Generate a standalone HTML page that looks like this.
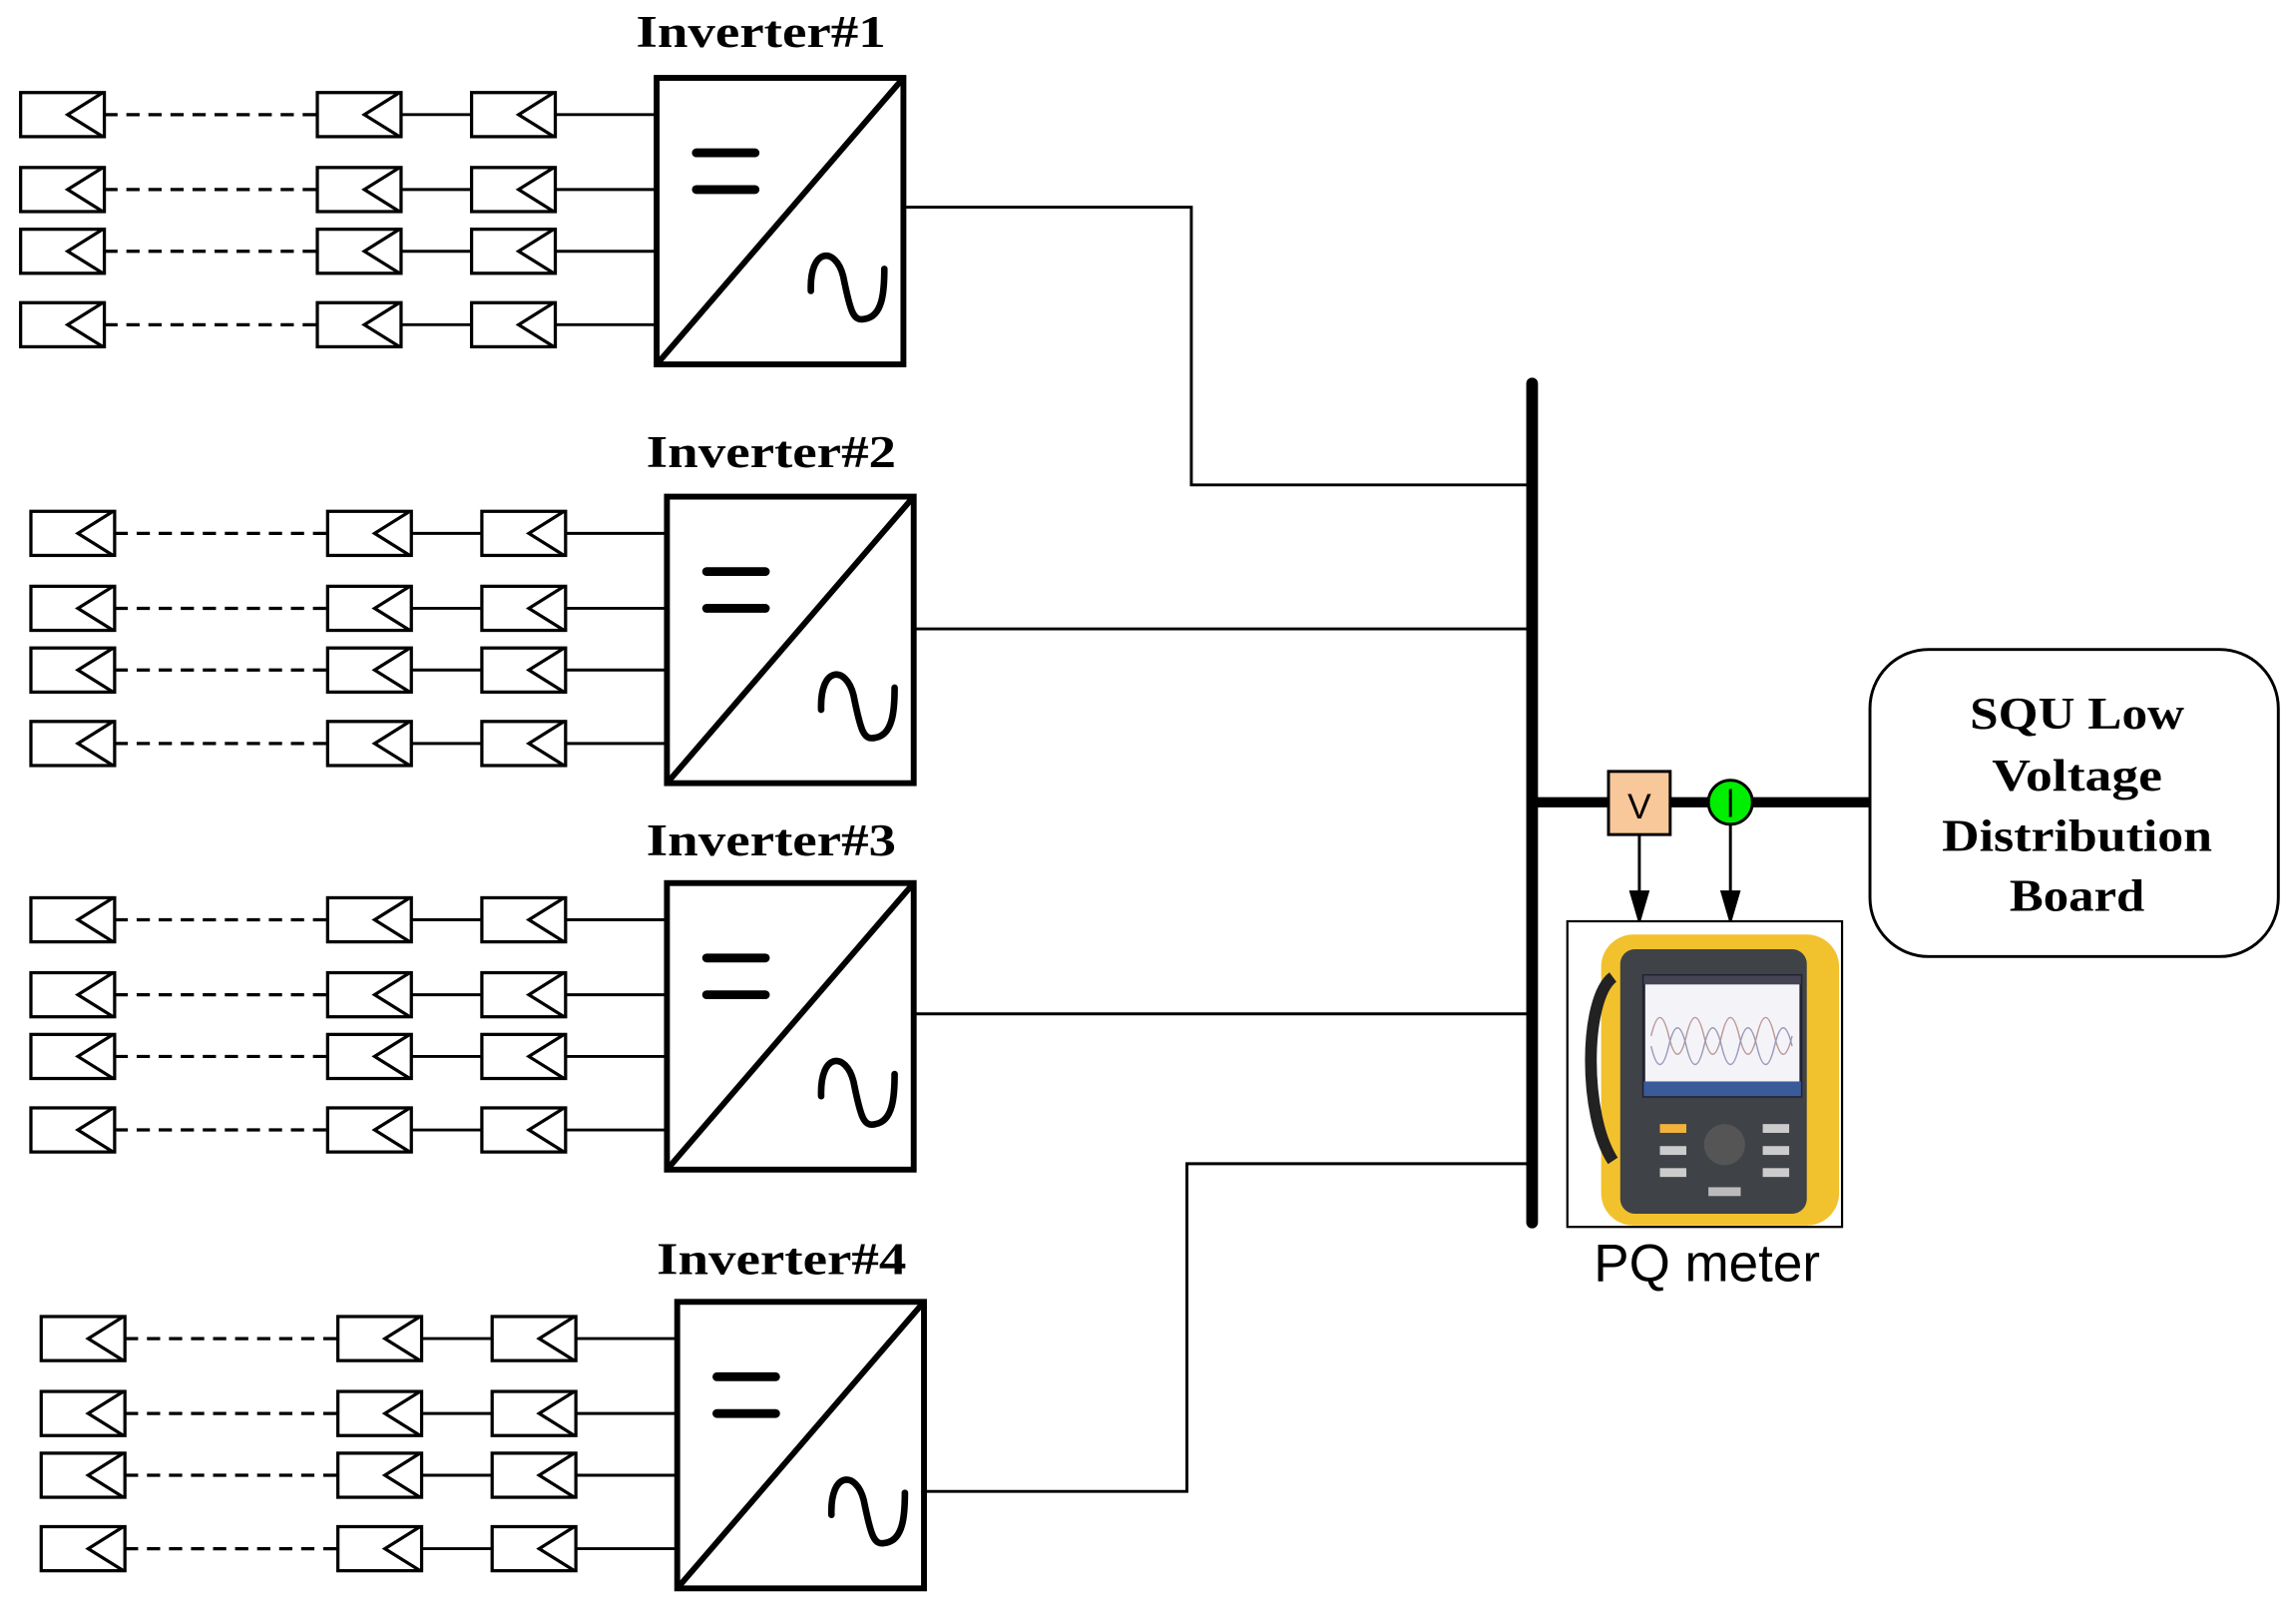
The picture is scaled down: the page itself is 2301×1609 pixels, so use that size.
<!DOCTYPE html>
<html><head><meta charset="utf-8"><style>
html,body{margin:0;padding:0;background:#fff;}
svg{display:block;}
.lbl{font-family:"Liberation Serif",serif;font-weight:bold;font-size:31px;}
.sq{font-family:"Liberation Serif",serif;font-weight:bold;font-size:31px;}
</style></head><body>
<svg width="2301" height="1609" viewBox="0 0 1563 1093" xmlns="http://www.w3.org/2000/svg">
<defs>
<g id="mod">
<rect x="0" y="-15" width="57" height="30" fill="#fff" stroke="#000" stroke-width="2.2"/>
<polyline points="56,-15 32,0 56,15" fill="none" stroke="#000" stroke-width="2.2"/>
</g>
<g id="row">
<line x1="-376" y1="0" x2="-231" y2="0" stroke="#000" stroke-width="2.2" stroke-dasharray="9,6"/>
<line x1="-174" y1="0" x2="-126" y2="0" stroke="#000" stroke-width="2"/>
<line x1="-69" y1="0" x2="0" y2="0" stroke="#000" stroke-width="2"/>
<use href="#mod" x="-433" y="0"/>
<use href="#mod" x="-231" y="0"/>
<use href="#mod" x="-126" y="0"/>
</g>
<g id="inv">
<use href="#row" y="25"/>
<use href="#row" y="76"/>
<use href="#row" y="118"/>
<use href="#row" y="168"/>
<rect x="0" y="0" width="168" height="195" fill="none" stroke="#000" stroke-width="4"/>
<line x1="0" y1="195" x2="168" y2="0" stroke="#000" stroke-width="4"/>
<line x1="27" y1="51" x2="67" y2="51" stroke="#000" stroke-width="6" stroke-linecap="round"/>
<line x1="27" y1="76" x2="67" y2="76" stroke="#000" stroke-width="6" stroke-linecap="round"/>
<path d="M105,145 C104,115 122,115 127,135 C132,160 134,166 142,164 C154,162 155,145 155,130" fill="none" stroke="#000" stroke-width="4.5" stroke-linecap="round"/>
</g>
</defs>

<text class="lbl" x="518" y="32" text-anchor="middle" textLength="170" lengthAdjust="spacingAndGlyphs">Inverter#1</text>
<use href="#inv" x="447" y="53"/>
<text class="lbl" x="525" y="318" text-anchor="middle" textLength="170" lengthAdjust="spacingAndGlyphs">Inverter#2</text>
<use href="#inv" x="454" y="338"/>
<text class="lbl" x="525" y="582" text-anchor="middle" textLength="170" lengthAdjust="spacingAndGlyphs">Inverter#3</text>
<use href="#inv" x="454" y="601"/>
<text class="lbl" x="532" y="867" text-anchor="middle" textLength="170" lengthAdjust="spacingAndGlyphs">Inverter#4</text>
<use href="#inv" x="461" y="886"/>

<g fill="none" stroke="#000" stroke-width="2">
<polyline points="615,141 811,141 811,330 1043,330"/>
<line x1="622" y1="428" x2="1043" y2="428"/>
<line x1="622" y1="690" x2="1043" y2="690"/>
<polyline points="629,1015 808,1015 808,792 1043,792"/>
</g>
<line x1="1043" y1="261" x2="1043" y2="832" stroke="#000" stroke-width="8" stroke-linecap="round"/>
<line x1="1043" y1="546" x2="1273" y2="546" stroke="#000" stroke-width="7"/>

<line x1="1116" y1="568" x2="1116" y2="608" stroke="#000" stroke-width="2"/>
<polygon points="1109,606 1123,606 1116,630" fill="#000"/>
<line x1="1178" y1="561" x2="1178" y2="608" stroke="#000" stroke-width="2"/>
<polygon points="1171,606 1185,606 1178,630" fill="#000"/>
<rect x="1095" y="525" width="42" height="43" fill="#f8c79a" stroke="#000" stroke-width="2"/>
<text x="1116" y="557" text-anchor="middle" font-family="Liberation Sans,sans-serif" font-size="24">V</text>
<circle cx="1178" cy="546" r="15" fill="#00ee00" stroke="#000" stroke-width="2"/>
<line x1="1178" y1="537" x2="1178" y2="556" stroke="#000" stroke-width="2"/>

<rect x="1067" y="627" width="187" height="208" fill="#fff" stroke="#000" stroke-width="1.5"/>
<rect x="1090" y="636" width="162" height="198" rx="22" fill="#f2c12e"/>
<rect x="1103" y="646" width="127" height="180" rx="10" fill="#3f4247"/>
<path d="M1098,665 C1078,680 1078,760 1098,790" fill="none" stroke="#222" stroke-width="8"/>
<rect x="1119" y="664" width="107" height="82" fill="#f4f4f8" stroke="#223" stroke-width="2"/>
<rect x="1119" y="664" width="107" height="6" fill="#445"/>
<path d="M1124,705 q6,-25 12,0 t12,0 t12,0 t12,0 t12,0 t12,0 t12,0 t12,0" fill="none" stroke="#b99" stroke-width="1"/>
<path d="M1124,712 q6,25 12,0 t12,0 t12,0 t12,0 t12,0 t12,0 t12,0 t12,0" fill="none" stroke="#99b" stroke-width="1"/>
<rect x="1119" y="736" width="107" height="10" fill="#3a5a9a"/>
<rect x="1130" y="765" width="18" height="6" fill="#f3b23a"/>
<rect x="1130" y="780" width="18" height="6" fill="#ccc"/>
<rect x="1130" y="795" width="18" height="6" fill="#ccc"/>
<rect x="1200" y="765" width="18" height="6" fill="#ccc"/>
<rect x="1200" y="780" width="18" height="6" fill="#ccc"/>
<rect x="1200" y="795" width="18" height="6" fill="#ccc"/>
<circle cx="1174" cy="779" r="14" fill="#555"/>
<rect x="1163" y="808" width="22" height="6" fill="#bbb"/>
<text x="1162" y="872" text-anchor="middle" font-family="Liberation Sans,sans-serif" font-size="36">PQ meter</text>

<rect x="1273" y="442" width="278" height="209" rx="40" fill="#fff" stroke="#000" stroke-width="2"/>
<g class="sq" text-anchor="middle">
<text x="1414" y="496" textLength="146" lengthAdjust="spacingAndGlyphs">SQU Low</text>
<text x="1414" y="538" textLength="116" lengthAdjust="spacingAndGlyphs">Voltage</text>
<text x="1414" y="579" textLength="184" lengthAdjust="spacingAndGlyphs">Distribution</text>
<text x="1414" y="620" textLength="92" lengthAdjust="spacingAndGlyphs">Board</text>
</g>
</svg>
</body></html>
